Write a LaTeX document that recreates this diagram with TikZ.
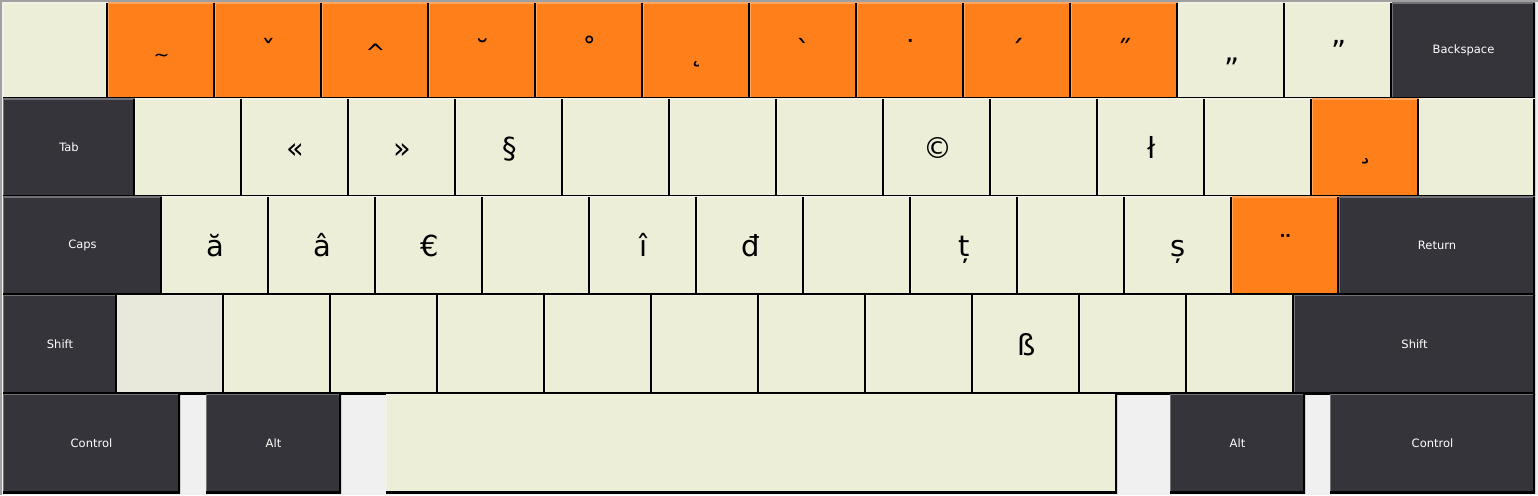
\documentclass[tikz,border=0pt]{standalone}
\usepackage{fontspec}
\setmainfont{DejaVu Sans}
\usepackage{xcolor}
\usepackage{tikz}
\definecolor{keylite}{HTML}{ECEED8}
\definecolor{keygrey}{HTML}{E8E9DA}
\definecolor{keyorange}{HTML}{FF7F1A}
\definecolor{keydark}{HTML}{35343A}
\definecolor{backgr}{HTML}{F0F0F0}
\definecolor{frame}{HTML}{A0A0A0}

\begin{document}
\begin{tikzpicture}[x=1pt,y=-1pt,
	bevel/.style 2 args={path picture={
		\draw[#1, line width=2.4pt] (path picture bounding box.south west) -- (path picture bounding box.north west) -- (path picture bounding box.north east);
		\draw[#2, line width=3.6pt] (path picture bounding box.north east) -- (path picture bounding box.south east) -- (path picture bounding box.south west);}},
	cap/.style={rectangle, anchor=north west, inner sep=0pt, outer sep=0pt, fill=#1, bevel={#1!70!white}{black}, text height=22pt, text depth=1pt, font=\fontsize{29}{30}\selectfont},
	mod/.style={rectangle, anchor=north west, inner sep=0pt, outer sep=0pt, fill=keydark, bevel={keydark!70!white}{black}, text=white, font=\fontsize{11.5}{13}\selectfont},
	row/.style={minimum height=#1}]
%1. 背景与外框
\useasboundingbox[fill=backgr] (0,0) rectangle (1538,495);
\draw[frame, line width=2pt] (0,1) -- (1538,1);
\draw[frame, line width=2pt] (1,0) -- (1,495);
%2. 第一行：死键
\node[cap=keylite, row=95.5pt, minimum width=105pt] (r1-0) at (3,3) {};
\foreach \sym [count=\i] in
	{{\fontsize{19}{20}\selectfont\textasciitilde},ˇ,{\fontsize{24}{25}\selectfont\textasciicircum},˘,˚,˛,\textasciigrave,˙,´,˝}
	{\node[cap=keyorange, row=95.5pt, minimum width=107pt] (r1-\i) at ({1+107*\i},3) {\sym};
	}
\foreach \sym [count=\i from 11] in
	{„,”}
	{\node[cap=keylite, row=95.5pt, minimum width=107pt] (r1-\i) at ({1+107*\i},3) {\sym};
	}
\node[mod, row=95.5pt, minimum width=143pt] (bksp) at (1392,3) {Backspace};
%3. 第二行
\node[mod, row=98pt, minimum width=132pt] (tab) at (3,98.5) {Tab};
\foreach \sym [count=\i] in
	{{},«,»,§,{},{},{},©,{},ł,{}}
	{\node[cap=keylite, row=98pt, minimum width=107pt] (r2-\i) at ({28+107*\i},98.5) {\sym};
	}
\node[cap=keyorange, row=98pt, minimum width=107pt] (r2-12) at (1312,98.5) {¸};
\node[cap=keylite, row=98pt, minimum width=116pt] (r2-13) at (1419,98.5) {};
%4. 第三行
\node[mod, row=98.5pt, minimum width=159pt] (caps) at (3,196.5) {Caps};
\foreach \sym [count=\i] in
	{ă,â,€,{},î,đ,{},ț,{},ș}
	{\node[cap=keylite, row=98.5pt, minimum width=107pt] (r3-\i) at ({55+107*\i},196.5) {\sym};
	}
\node[cap=keyorange, row=98.5pt, minimum width=107pt] (r3-11) at (1232,196.5) {¨};
\node[mod, row=98.5pt, minimum width=196pt] (ret) at (1339,196.5) {Return};
%5. 第四行
\node[mod, row=99pt, minimum width=114pt] (lshift) at (3,295) {Shift};
\node[cap=keygrey, row=99pt, minimum width=107pt] (r4-0) at (117,295) {};
\foreach \sym [count=\i] in
	{{},{},{},{},{},{},{},ß,{},{}}
	{\node[cap=keylite, row=99pt, minimum width=107pt] (r4-\i) at ({117+107*\i},295) {\sym};
	}
\node[mod, row=99pt, minimum width=241pt] (rshift) at (1294,295) {Shift};
%6. 第五行
\node[mod, row=99pt, minimum width=177pt] (lctrl) at (3,394) {Control};
\node[mod, row=99pt, minimum width=135pt] (lalt) at (206,394) {Alt};
\node[cap=keylite, row=99pt, minimum width=731pt] (space) at (386,394) {};
\node[mod, row=99pt, minimum width=135pt] (ralt) at (1170,394) {Alt};
\node[mod, row=99pt, minimum width=205pt] (rctrl) at (1330,394) {Control};
\end{tikzpicture}
\end{document}
